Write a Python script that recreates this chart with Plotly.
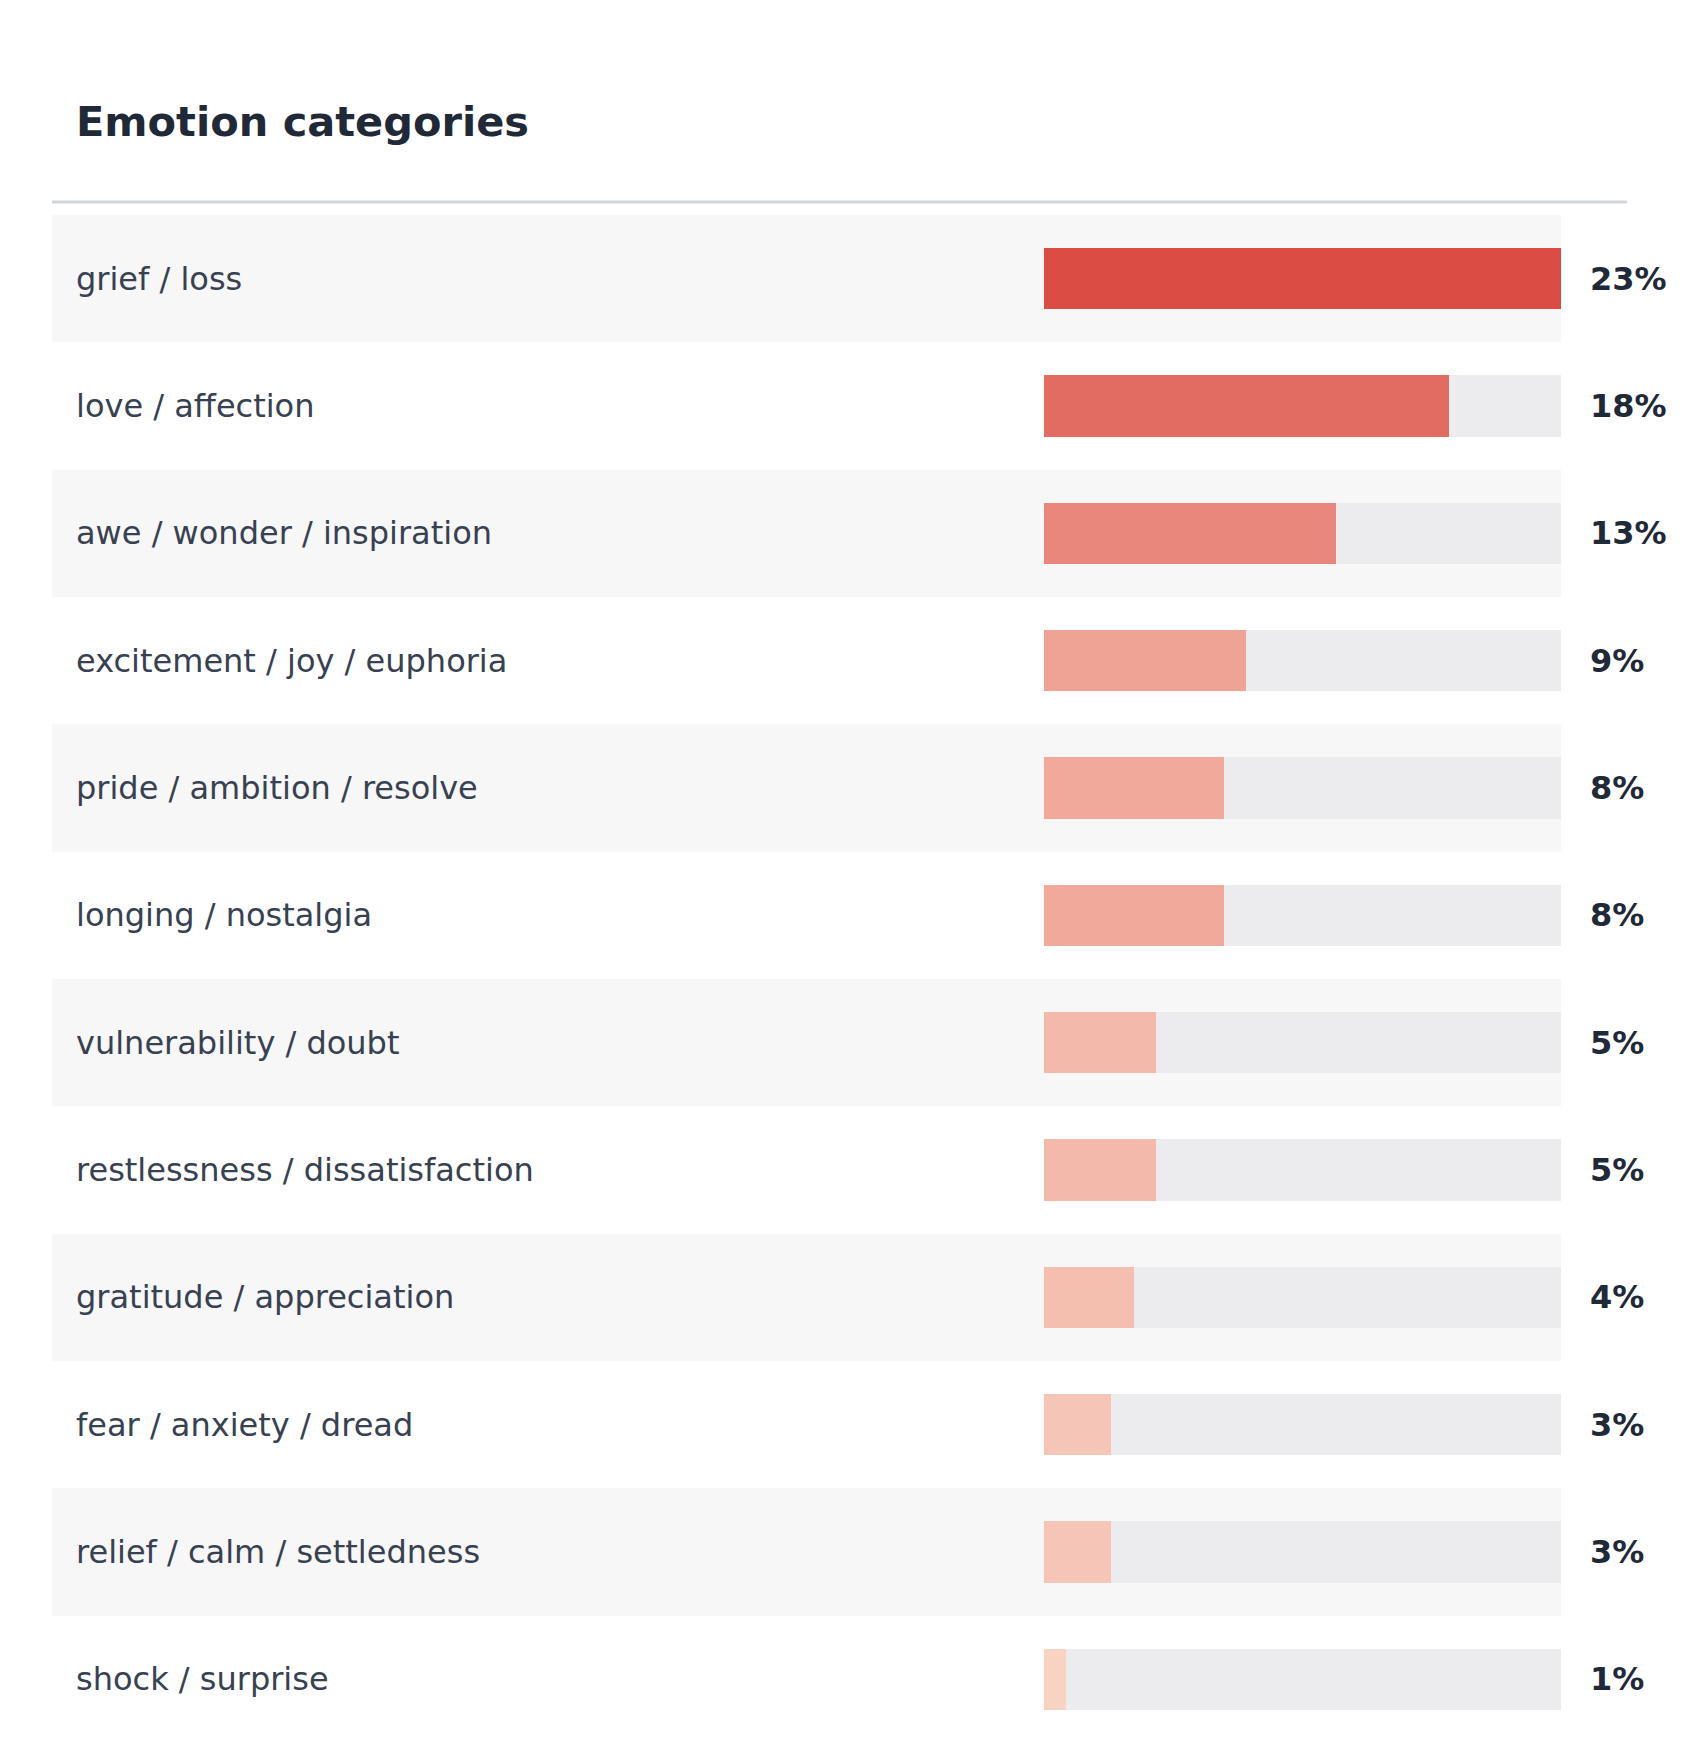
import plotly.graph_objects as go

W, H = 1686, 1764
OFF = 8  # the page body margin pushes everything 8px right/down

categories = [
    "grief / loss",
    "love / affection",
    "awe / wonder / inspiration",
    "excitement / joy / euphoria",
    "pride / ambition / resolve",
    "longing / nostalgia",
    "vulnerability / doubt",
    "restlessness / dissatisfaction",
    "gratitude / appreciation",
    "fear / anxiety / dread",
    "relief / calm / settledness",
    "shock / surprise",
]
percent = [23, 18, 13, 9, 8, 8, 5, 5, 4, 3, 3, 1]
bar_colors = [
    "#db4c44", "#e26b62", "#e9877c", "#eea395", "#f0a99b", "#f0a99b",
    "#f3b9aa", "#f3b9aa", "#f5bfb0", "#f5c6b7", "#f5c6b7", "#f8d3c2",
]

vmax = max(percent)
rows = list(range(len(categories)))


def px_x(p):
    return (p - OFF) / W


def px_y(p):
    return 1 - (p - OFF) / H


fig = go.Figure()

# grey track behind every bar
fig.add_trace(go.Bar(
    y=rows, x=[vmax] * len(rows), orientation="h",
    marker=dict(color="#ececee", line=dict(width=0)),
    width=0.48, hoverinfo="skip", showlegend=False,
))
fig.add_trace(go.Bar(
    y=rows, x=percent, orientation="h",
    marker=dict(color=bar_colors, line=dict(width=0)),
    width=0.48, showlegend=False,
    hovertemplate="%{x}%<extra></extra>",
))

shapes = []
# zebra row backgrounds
for i in rows:
    if i % 2 == 0:
        shapes.append(dict(
            type="rect", xref="paper", yref="y", layer="below",
            x0=px_x(52), x1=px_x(1561), y0=i - 0.5, y1=i + 0.5,
            fillcolor="#f7f7f7", line=dict(width=0),
        ))
# header rule
shapes.append(dict(
    type="line", xref="paper", yref="paper",
    x0=px_x(52), x1=px_x(1627), y0=px_y(202), y1=px_y(202),
    line=dict(color="#d1d5db", width=3),
))

annotations = [dict(
    text="<b>Emotion categories</b>", xref="paper", yref="paper",
    x=px_x(74), y=px_y(122), xanchor="left", yanchor="middle",
    showarrow=False, font=dict(size=41.5, color="#1f2937"),
)]
for i, (name, v) in enumerate(zip(categories, percent)):
    annotations.append(dict(
        text=name, xref="paper", yref="y", x=px_x(74), y=i,
        xanchor="left", yanchor="middle", showarrow=False,
        font=dict(size=32, color="#374151"),
    ))
    annotations.append(dict(
        text=f"<b>{v}%</b>", xref="paper", yref="y", x=px_x(1588), y=i,
        xanchor="left", yanchor="middle", showarrow=False,
        font=dict(size=32, color="#1f2937"),
    ))

fig.update_layout(
    width=W, height=H,
    margin=dict(l=0, r=0, t=0, b=0),
    paper_bgcolor="white", plot_bgcolor="rgba(0,0,0,0)",
    font=dict(family="DejaVu Sans"),
    barmode="overlay",
    bargap=0,
    shapes=shapes,
    annotations=annotations,
    xaxis=dict(
        domain=[px_x(1044), px_x(1561)], range=[0, vmax],
        visible=False, fixedrange=True,
    ),
    yaxis=dict(
        domain=[px_y(1743), px_y(215)], range=[len(rows) - 0.5, -0.5],
        visible=False, fixedrange=True,
    ),
)

fig.write_html("out.html")
